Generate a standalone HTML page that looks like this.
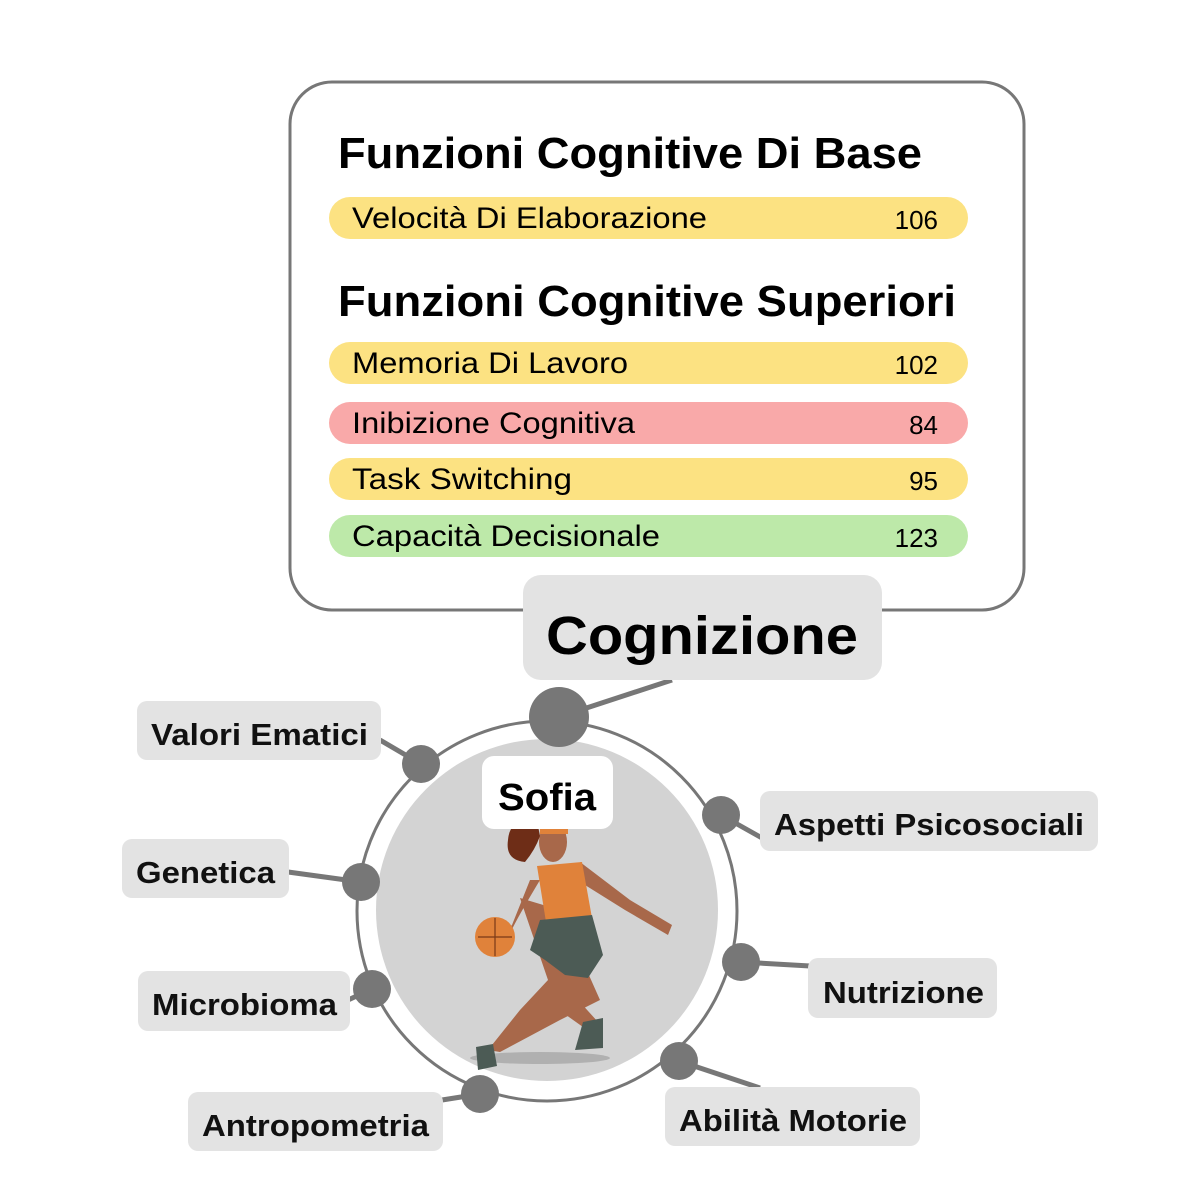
<!DOCTYPE html>
<html><head><meta charset="utf-8"><style>html,body{margin:0;padding:0;background:#fff;}svg{display:block}</style></head>
<body>
<svg width="1198" height="1200" viewBox="0 0 1198 1200" xmlns="http://www.w3.org/2000/svg" font-family="Liberation Sans, Arial, sans-serif">
<rect width="1198" height="1200" fill="#fff"/>
<!-- top card -->
<rect x="290" y="82" width="734" height="528" rx="42" fill="#fff" stroke="#777" stroke-width="3"/>
<text x="338" y="168" font-size="44" font-weight="bold" textLength="584" lengthAdjust="spacingAndGlyphs">Funzioni Cognitive Di Base</text>
<rect x="329" y="197" width="639" height="42" rx="21" fill="#fce282"/>
<text x="352" y="228" font-size="30" textLength="355" lengthAdjust="spacingAndGlyphs">Velocità Di Elaborazione</text>
<text x="938" y="229" font-size="26" text-anchor="end">106</text>
<text x="338" y="316" font-size="44" font-weight="bold" textLength="618" lengthAdjust="spacingAndGlyphs">Funzioni Cognitive Superiori</text>
<rect x="329" y="342" width="639" height="42" rx="21" fill="#fce282"/>
<text x="352" y="373" font-size="30" textLength="276" lengthAdjust="spacingAndGlyphs">Memoria Di Lavoro</text>
<text x="938" y="374" font-size="26" text-anchor="end">102</text>
<rect x="329" y="402" width="639" height="42" rx="21" fill="#f9a9a9"/>
<text x="352" y="433" font-size="30" textLength="283" lengthAdjust="spacingAndGlyphs">Inibizione Cognitiva</text>
<text x="938" y="434" font-size="26" text-anchor="end">84</text>
<rect x="329" y="458" width="639" height="42" rx="21" fill="#fce282"/>
<text x="352" y="489" font-size="30" textLength="220" lengthAdjust="spacingAndGlyphs">Task Switching</text>
<text x="938" y="490" font-size="26" text-anchor="end">95</text>
<rect x="329" y="515" width="639" height="42" rx="21" fill="#bde9a9"/>
<text x="352" y="546" font-size="30" textLength="308" lengthAdjust="spacingAndGlyphs">Capacità Decisionale</text>
<text x="938" y="547" font-size="26" text-anchor="end">123</text>

<!-- connectors -->
<g stroke="#777" stroke-width="5" fill="none">
<line x1="559" y1="717" x2="672" y2="680"/>
<line x1="421" y1="764" x2="380" y2="740"/>
<line x1="721" y1="815" x2="762" y2="838"/>
<line x1="361" y1="882" x2="288" y2="872"/>
<line x1="741" y1="962" x2="810" y2="966"/>
<line x1="372" y1="989" x2="348" y2="1000"/>
<line x1="679" y1="1061" x2="760" y2="1088"/>
<line x1="480" y1="1094" x2="442" y2="1100"/>
</g>
<!-- Cognizione label -->
<rect x="523" y="575" width="359" height="105" rx="18" fill="#e3e3e3"/>
<text x="702" y="654" font-size="54" font-weight="bold" text-anchor="middle" textLength="312" lengthAdjust="spacingAndGlyphs">Cognizione</text>

<!-- circles -->
<circle cx="547" cy="911" r="190" fill="#fff" stroke="#777" stroke-width="3"/>
<circle cx="547" cy="910" r="171" fill="#d3d3d3"/>

<!-- labels -->
<g fill="#e3e3e3">
<rect x="137" y="701" width="244" height="59" rx="10"/>
<rect x="760" y="791" width="338" height="60" rx="10"/>
<rect x="122" y="839" width="167" height="59" rx="10"/>
<rect x="808" y="958" width="189" height="60" rx="10"/>
<rect x="138" y="971" width="212" height="60" rx="10"/>
<rect x="188" y="1092" width="255" height="59" rx="10"/>
<rect x="665" y="1087" width="255" height="59" rx="10"/>
</g>
<g font-size="31" font-weight="bold" fill="#111">
<text x="151" y="745" textLength="217" lengthAdjust="spacingAndGlyphs">Valori Ematici</text>
<text x="774" y="835" textLength="310" lengthAdjust="spacingAndGlyphs">Aspetti Psicosociali</text>
<text x="136" y="883" textLength="139" lengthAdjust="spacingAndGlyphs">Genetica</text>
<text x="823" y="1003" textLength="161" lengthAdjust="spacingAndGlyphs">Nutrizione</text>
<text x="152" y="1015" textLength="185" lengthAdjust="spacingAndGlyphs">Microbioma</text>
<text x="202" y="1136" textLength="227" lengthAdjust="spacingAndGlyphs">Antropometria</text>
<text x="679" y="1131" textLength="228" lengthAdjust="spacingAndGlyphs">Abilità Motorie</text>
</g>

<!-- player -->
<ellipse cx="540" cy="1058" rx="70" ry="6" fill="#999" opacity="0.6"/>
<g>
<path d="M520 898 L560 910 L600 1000 L560 1020 L500 1052 L488 1050 L520 1010 L548 980 Z" fill="#a8684a"/>
<path d="M560 980 L598 1022 L590 1032 L545 1000 Z" fill="#a8684a"/>
<path d="M540 880 Q510 930 510 935 L500 940 L512 925 L530 880 Z" fill="#a8684a"/>
<path d="M580 862 L630 900 L672 925 L668 935 L625 910 L585 885 Z" fill="#a8684a"/>
<path d="M537 866 L582 862 L592 918 L546 922 Z" fill="#e0823a"/>
<path d="M540 920 L592 915 L603 955 L588 978 L565 975 L545 960 L530 950 Z" fill="#4c5b55"/>
<path d="M583 1022 L603 1018 L603 1048 L575 1050 Z" fill="#4c5b55"/>
<path d="M476 1047 L493 1044 L497 1066 L478 1070 Z" fill="#4c5b55"/>
<circle cx="495" cy="937" r="20" fill="#e0823a"/>
<path d="M478 937 H512 M495 918 V956" stroke="#7a3a18" stroke-width="1.2"/>
<ellipse cx="553" cy="842" rx="14" ry="20" fill="#a8684a"/>
<path d="M540 826 Q555 815 568 826 L568 834 L540 834 Z" fill="#e0823a"/>
<path d="M538 826 Q510 815 508 840 Q505 860 525 862 Q535 850 540 836 Z" fill="#6e2d17"/>
</g>
<!-- Sofia -->
<rect x="482" y="756" width="131" height="73" rx="12" fill="#fff"/>
<text x="547" y="810" font-size="38" font-weight="bold" text-anchor="middle" textLength="98" lengthAdjust="spacingAndGlyphs">Sofia</text>

<!-- nodes -->
<g fill="#777">
<circle cx="559" cy="717" r="30"/>
<circle cx="421" cy="764" r="19"/>
<circle cx="721" cy="815" r="19"/>
<circle cx="361" cy="882" r="19"/>
<circle cx="741" cy="962" r="19"/>
<circle cx="372" cy="989" r="19"/>
<circle cx="679" cy="1061" r="19"/>
<circle cx="480" cy="1094" r="19"/>
</g>
</svg>
</body></html>
